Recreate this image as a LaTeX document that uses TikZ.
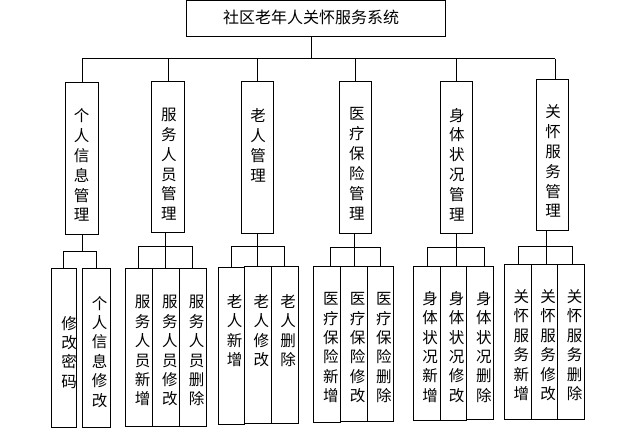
\documentclass[tikz,border=0pt]{standalone}
\usepackage{fontspec}
\newfontfamily\cjk{Noto Sans CJK SC}
\usetikzlibrary{fit}
\begin{document}
\begin{tikzpicture}[x=1pt,y=-1pt,line width=0.9pt,
  box/.style={draw,inner sep=0pt,line width=0.9pt},
  vt/.style={font=\cjk\fontsize{15.5}{19.4}\selectfont,align=center,inner sep=0pt,anchor=north},
  vtm/.style={font=\cjk\fontsize{15.5}{19.9}\selectfont,align=center,inner sep=0pt,anchor=north},
  ln/.style={draw,line width=0.9pt}]
\useasboundingbox (0,0) rectangle (618,447);
% top
\node[box,fit={(186.3,0.8) (445,36)}] (top) {};
\node[font=\cjk\fontsize{16}{16}\selectfont,inner sep=0pt] (toptext) at (311.2,17.5) {社区老年人关怀服务系统};
% second level
\node[box,fit={(65.3,82) (98.7,234)}] (b1) {};
\node[box,fit={(151.3,81.3) (184.7,232.3)}] (b2) {};
\node[box,fit={(241,81.3) (273.3,233.3)}] (b3) {};
\node[box,fit={(339.3,81.3) (371.3,233.3)}] (b4) {};
\node[box,fit={(440.3,81.3) (472.3,233.3)}] (b5) {};
\node[box,fit={(536.3,79.3) (568.3,230.3)}] (b6) {};
\node[vtm] (t1) at (81.7,108) {个\\人\\信\\息\\管\\理};
\node[vtm] (t2) at (168.8,107.5) {服\\务\\人\\员\\管\\理};
\node[vtm] (t3) at (258,108) {老\\人\\管\\理};
\node[vtm] (t4) at (356.8,107) {医\\疗\\保\\险\\管\\理};
\node[vtm] (t5) at (456.8,107.5) {身\\体\\状\\况\\管\\理};
\node[vtm] (t6) at (553,104) {关\\怀\\服\\务\\管\\理};
% bus
\coordinate (bus) at (0,58.5);
\draw[ln] ([xshift=-4pt]top.south) -- ([xshift=-4pt]top.south |- bus);
\draw[ln] (b1.north |- bus) -- ([xshift=3pt]b6.north |- bus);
\foreach \b in {b1,b2,b3,b4,b5} {\draw[ln] (\b.north |- bus) -- (\b.north);}
\draw[ln] ([xshift=3pt]b6.north |- bus) -- ([xshift=3pt]b6.north);
% group 1
\node[box,fit={(51.3,268.3) (76.3,427)}] (c11) {};
\node[box,fit={(82.7,268.3) (110.3,427)}] (c12) {};
\coordinate (h1) at (0,251.7);
\draw[ln] (b1.south) -- (b1.south |- h1);
\draw[ln] (c11.north) -- (c11.north |- h1) -- (c12.north |- h1) -- (c12.north);
\node[vt] (s11) at (69,315.7) {修\\改\\密\\码};
\node[vt] (s12) at (99.7,295.7) {个\\人\\信\\息\\修\\改};
% group 2
\node[box,fit={(125.3,268.3) (152.3,426)}] (c21) {};
\node[box,fit={(152.3,268.3) (179.3,426.5)}] (c22) {};
\node[box,fit={(179.3,268.3) (206.3,426)}] (c23) {};
\coordinate (h2) at (0,246.3);
\draw[ln] (c22.north) -- (c22.north |- b2.south);
\draw[ln] (c21.north) -- (c21.north |- h2) -- (c23.north |- h2) -- (c23.north);
\node[vt] (s21) at (142.5,295) {服\\务\\人\\员\\新\\增};
\node[vt] (s22) at (169.8,295) {服\\务\\人\\员\\修\\改};
\node[vt] (s23) at (196.5,295) {服\\务\\人\\员\\删\\除};
% group 3
\node[box,fit={(218.3,267.3) (244.3,424)}] (c31) {};
\node[box,fit={(244.3,266.3) (271.3,423)}] (c32) {};
\node[box,fit={(271.3,266.3) (298.3,423)}] (c33) {};
\coordinate (h3) at (0,246.3);
\draw[ln] (c32.north) -- (c32.north |- b3.south);
\draw[ln] (c31.north) -- (c31.north |- h3) -- (c33.north |- h3) -- (c33.north);
\node[vt] (s31) at (234.5,294) {老\\人\\新\\增};
\node[vt] (s32) at (261.3,294) {老\\人\\修\\改};
\node[vt] (s33) at (288,294) {老\\人\\删\\除};
% group 4
\node[box,fit={(313.3,266.3) (340.3,422)}] (c41) {};
\node[box,fit={(340.3,266.3) (367.7,421)}] (c42) {};
\node[box,fit={(367.7,266.3) (393.3,421)}] (c43) {};
\coordinate (h4) at (0,247.3);
\draw[ln] (c42.north) -- (c42.north |- b4.south);
\draw[ln] ([xshift=4pt]c41.north) -- ([xshift=4pt]c41.north |- h4) -- (c43.north |- h4) -- (c43.north);
\node[vt] (s41) at (330.8,292) {医\\疗\\保\\险\\新\\增};
\node[vt] (s42) at (357.5,292) {医\\疗\\保\\险\\修\\改};
\node[vt] (s43) at (383.8,292) {医\\疗\\保\\险\\删\\除};
% group 5
\node[box,fit={(413.7,266.3) (440.3,420)}] (c51) {};
\node[box,fit={(440.3,266.3) (466.7,420)}] (c52) {};
\node[box,fit={(466.7,266.3) (493.3,419)}] (c53) {};
\coordinate (h5) at (0,247.3);
\draw[ln] ([xshift=3pt]c52.north) -- ([xshift=3pt]c52.north |- b5.south);
\draw[ln] (c51.north) -- (c51.north |- h5) -- ([xshift=4pt]c53.north |- h5) -- ([xshift=4pt]c53.north);
\node[vt] (s51) at (430,290.7) {身\\体\\状\\况\\新\\增};
\node[vt] (s52) at (456.5,290.7) {身\\体\\状\\况\\修\\改};
\node[vt] (s53) at (483.8,290.7) {身\\体\\状\\况\\删\\除};
% group 6
\node[box,fit={(504.3,264.3) (531.7,419.3)}] (c61) {};
\node[box,fit={(531.7,264.3) (557.3,419.3)}] (c62) {};
\node[box,fit={(557.3,264.3) (584.3,419.3)}] (c63) {};
\coordinate (h6) at (0,246.3);
\draw[ln] ([xshift=2pt]c62.north) -- ([xshift=2pt]c62.north |- b6.south);
\draw[ln] (c61.north) -- (c61.north |- h6) -- ([xshift=2pt]c63.north |- h6) -- ([xshift=2pt]c63.north);
\node[vt] (s61) at (521.3,289) {关\\怀\\服\\务\\新\\增};
\node[vt] (s62) at (548,289) {关\\怀\\服\\务\\修\\改};
\node[vt] (s63) at (574.7,289) {关\\怀\\服\\务\\删\\除};
\end{tikzpicture}
\end{document}
